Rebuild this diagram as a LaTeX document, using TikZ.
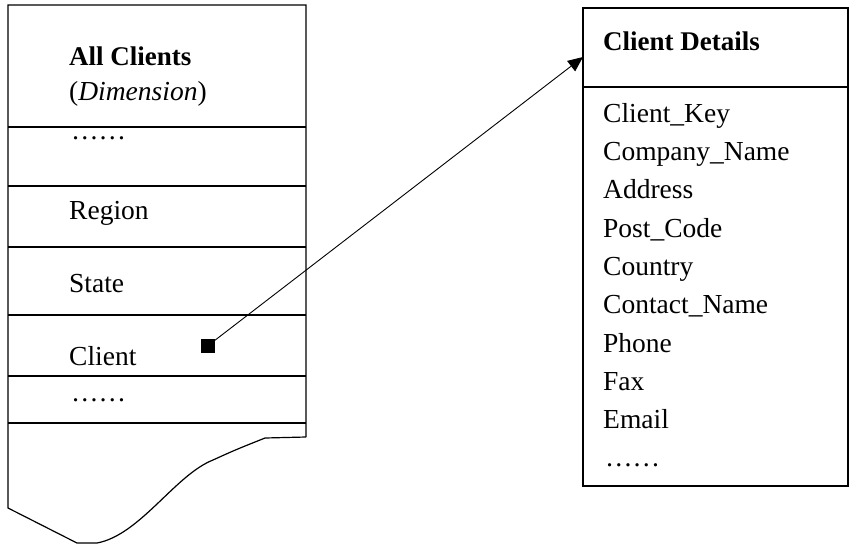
\documentclass[tikz,border=0pt]{standalone}
\usepackage{fontspec}
\setmainfont{Liberation Serif}
\usetikzlibrary{arrows.meta, positioning}

\begin{document}
\begin{tikzpicture}[
            x=1pt, y=-1pt,
            outline/.style={draw, line width=1.2pt},
            field/.style={anchor=base west, inner sep=0pt,
                    font=\fontsize{27.5}{32}\selectfont},
            header/.style={field, font=\fontsize{27}{32}\selectfont\bfseries},
            marker/.style={fill, minimum size=14pt, inner sep=0pt},
            arr/.style={-{Triangle[length=15pt, width=13pt]}, line width=0.9pt}
        ]

        \useasboundingbox (0,0) rectangle (854,547);

        % ---------------------------------------------------------------
        % LEFT: dimension column with torn bottom
        % ---------------------------------------------------------------
        \draw[outline] (306,437) -- (306,5) -- (8,5) -- (8,508) -- (77,543) -- (97,543)
            .. controls (140,535) and (175,475) .. (213,460)
            .. controls (235,450) .. (265,438) -- (306,437);
        \foreach \y in {127,186,247,315,376,423}
            \draw[outline] (8,\y) -- (306,\y);

        \node[header] (allclients) at (69,65) {All Clients};
        \node[field] (dimension) at (69,100) {(\textit{Dimension})};
        \node[field] (dotsa) at (71,139) {……};
        \node[field] (region) at (69,219) {Region};
        \node[field] (state) at (69,292) {State};
        \node[field] (client) at (69,365) {Client};
        \node[field] (dotsb) at (71,401) {……};

        \node[marker] (key) at (207.5,346) {};

        % ---------------------------------------------------------------
        % RIGHT: client details table
        % ---------------------------------------------------------------
        \draw[outline] (583,8) rectangle (848,486);
        \draw[outline] (583,87) -- (848,87);
        \coordinate (target) at (583,57);

        \node[header] (details) at (603,50) {Client Details};
        \node[field] (clientkey) at (603,122) {Client\_Key};
        \node[field] (company) at (603,160) {Company\_Name};
        \node[field] (address) at (603,198) {Address};
        \node[field] (postcode) at (603,237) {Post\_Code};
        \node[field] (country) at (603,275) {Country};
        \node[field] (contact) at (603,313) {Contact\_Name};
        \node[field] (phone) at (603,352) {Phone};
        \node[field] (fax) at (603,390) {Fax};
        \node[field] (email) at (603,428) {Email};
        \node[field] (dotsc) at (605,466) {……};

        % Link
        \draw[arr] (key.center) -- (target);

    \end{tikzpicture}
\end{document}
